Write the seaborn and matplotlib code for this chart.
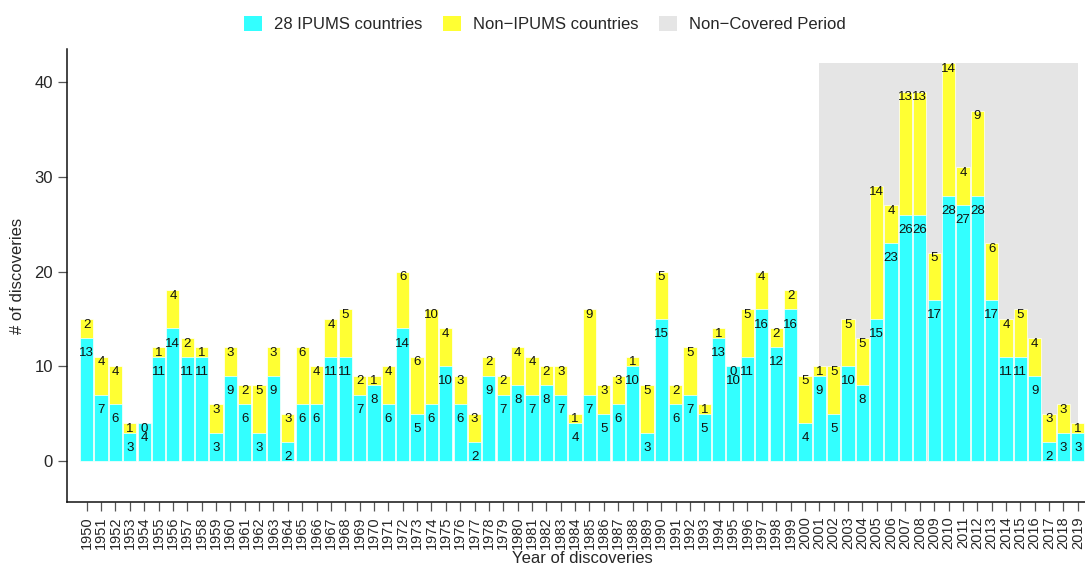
import numpy as np
import pandas as pd
import matplotlib
matplotlib.use("Agg")
import matplotlib.pyplot as plt
from matplotlib.patches import Patch, Rectangle
import seaborn as sns

# discoveries per year
years = list(range(1950, 2020))
ipums = [13, 7, 6, 3, 4, 11, 14, 11, 11, 3,
         9, 6, 3, 9, 2, 6, 6, 11, 11, 7,
         8, 6, 14, 5, 6, 10, 6, 2, 9, 7,
         8, 7, 8, 7, 4, 7, 5, 6, 10, 3,
         15, 6, 7, 5, 13, 10, 11, 16, 12, 16,
         4, 9, 5, 10, 8, 15, 23, 26, 26, 17,
         28, 27, 28, 17, 11, 11, 9, 2, 3, 3]
non_ipums = [2, 4, 4, 1, 0, 1, 4, 2, 1, 3,
             3, 2, 5, 3, 3, 6, 4, 4, 5, 2,
             1, 4, 6, 6, 10, 4, 3, 3, 2, 2,
             4, 4, 2, 3, 1, 9, 3, 3, 1, 5,
             5, 2, 5, 1, 1, 0, 5, 4, 2, 2,
             5, 1, 5, 5, 5, 14, 4, 13, 13, 5,
             14, 4, 9, 6, 4, 5, 4, 3, 3, 1]
covered_start, covered_end = 2001, 2019

c_ipums = "#33FFFF"
c_non = "#FFFF33"
c_grey = "#E5E5E5"

df = pd.DataFrame({"year": [str(y) for y in years], "ipums": ipums, "non": non_ipums})
df["total"] = df["ipums"] + df["non"]

sns.set_style("ticks")
plt.rcParams["font.family"] = ["Liberation Sans", "DejaVu Sans"]

fig = plt.figure(figsize=(10.85, 5.69), dpi=100)
ax = fig.add_axes([0.0615, 0.1178, 0.9385, 0.7961])

# non-covered period background
i0 = years.index(covered_start)
i1 = years.index(covered_end)
ax.add_patch(Rectangle((i0, 0), i1 - i0, df["total"].max(), facecolor=c_grey,
                       edgecolor="none", zorder=0))

sns.barplot(data=df, x="year", y="total", color=c_non, saturation=1, width=0.92,
            edgecolor="white", linewidth=0.5, ax=ax, zorder=2)
sns.barplot(data=df, x="year", y="ipums", color=c_ipums, saturation=1, width=0.92,
            edgecolor="white", linewidth=0.5, ax=ax, zorder=3)

for i, row in df.iterrows():
    ax.text(i, row["ipums"] - 1.6, str(row["ipums"]), ha="center", va="center",
            fontsize=9.5, color="#111111", zorder=5)
    ax.text(i, row["total"] - 0.6, str(row["non"]), ha="center", va="center",
            fontsize=9.5, color="#111111", zorder=5)

ax.set_xlim(-1.39, 69.5)
ax.set_ylim(-4.33, 43.5)
ax.set_yticks([0, 10, 20, 30, 40])
ax.tick_params(axis="y", length=6.5, width=0.9, color="#555555", pad=3.5, labelsize=12)
ax.tick_params(axis="x", length=6.5, width=0.9, color="#555555", pad=4, labelsize=10.5,
               labelrotation=90)
ax.grid(False)
for s in ["top", "right"]:
    ax.spines[s].set_visible(False)
for s in ["left", "bottom"]:
    ax.spines[s].set_linewidth(1.1)
    ax.spines[s].set_color("#111111")

ax.set_xlabel("Year of discoveries", fontsize=12)
ax.set_ylabel("# of discoveries", fontsize=12)
ax.xaxis.set_label_coords(0.506, -0.108)
ax.yaxis.set_label_coords(-0.041, 0.5)

handles = [Patch(facecolor=c_ipums, edgecolor="none", label="28 IPUMS countries"),
           Patch(facecolor=c_non, edgecolor="none", label="Non\u2212IPUMS countries"),
           Patch(facecolor=c_grey, edgecolor="none", label="Non\u2212Covered Period")]
fig.legend(handles=handles, loc="center", bbox_to_anchor=(0.502, 0.958), ncol=3,
           frameon=False, fontsize=12, handlelength=1.08, handleheight=1.08,
           handletextpad=0.72, columnspacing=1.25)

fig.savefig("out.png", dpi=100)
